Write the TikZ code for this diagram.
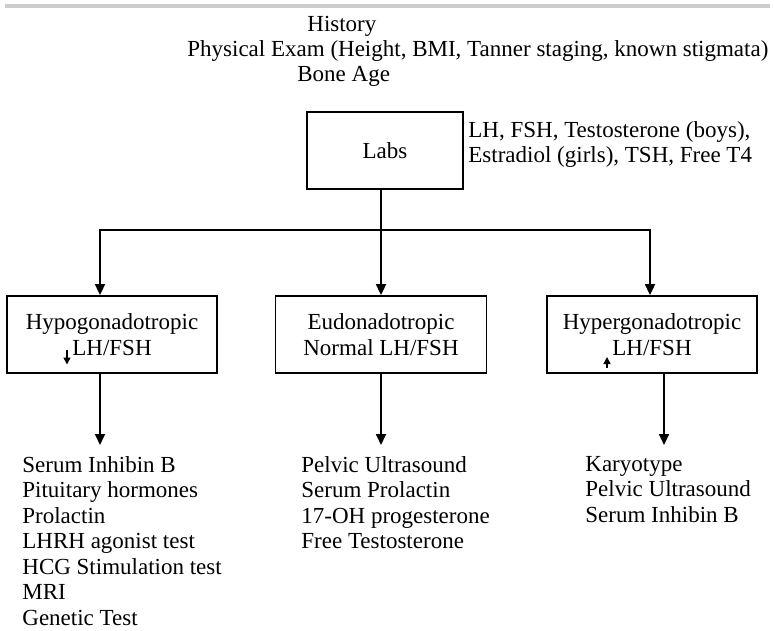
\documentclass[tikz,border=0pt]{standalone}
\usepackage{fontspec}
\setmainfont{Liberation Serif}
\usepackage{tikz}
\usetikzlibrary{arrows.meta}

\begin{document}
\begin{tikzpicture}[x=0.5pt, y=-0.5pt,
		font=\fontsize{11.5}{12.75}\selectfont,
		>={Triangle[length=5.5pt, width=5pt]},
		box/.style={draw, rectangle, line width=0.9pt, align=center, minimum height=38.5pt},
		note/.style={inner sep=0pt, align=left},
		list/.style={inner xsep=0pt, inner ysep=5.5pt, align=left, anchor=north west},
		link/.style={line width=0.9pt},
		tiny/.style={line width=0.7pt, -{Triangle[length=3.5pt, width=3.5pt]}}]
		\useasboundingbox (0,0) rectangle (774,630);
		\draw[gray!40, line width=1.8pt] (5,6) -- (770,6);
		
		% badania wstepne
		\node[note, anchor=base west] (history) at (307,32) {History};
		\node[note, anchor=base west] (exam) at (187,57) {Physical Exam (Height, BMI, Tanner staging, known stigmata)};
		\node[note, anchor=base west] (bone) at (297,82) {Bone Age};
		
		\node[box, minimum width=78pt] (labs) at (385,150.5) {Labs};
		\node[note, anchor=north west] (labtests) at (468,121) {LH, FSH, Testosterone (boys),\\Estradiol (girls), TSH, Free T4};
		
		\node[box, minimum width=105pt] (hypo) at (112,334.5) {Hypogonadotropic\\LH/FSH};
		\node[box, minimum width=105.5pt] (eu) at (381,334.5) {Eudonadotropic\\Normal LH/FSH};
		\node[box, minimum width=105pt] (hyper) at (652,334.5) {Hypergonadotropic\\LH/FSH};
		
		% strzalki przy LH/FSH
		\draw[tiny] ([shift={(-45,15)}]hypo.center) -- ++(0,15);
		\draw[tiny] ([shift={(-45,33.5)}]hyper.center) -- ++(0,-11);
		
		\node[list] (hypotests) at (22,445) {Serum Inhibin B\\Pituitary hormones\\Prolactin\\LHRH agonist test\\HCG Stimulation test\\MRI\\Genetic Test};
		\node[list] (eutests) at (301,445) {Pelvic Ultrasound\\Serum Prolactin\\17-OH progesterone\\Free Testosterone};
		\node[list] (hypertests) at (585,445) {Karyotype\\Pelvic Ultrasound\\Serum Inhibin B};
		
		\coordinate (fork) at (381,230);
		\coordinate (hypoin) at ([xshift=-6pt]hypo.north);
		\coordinate (hyperin) at ([xshift=-1pt]hyper.north);
		\coordinate (hypoout) at ([xshift=-6pt]hypo.south);
		\coordinate (hyperout) at ([xshift=6pt]hyper.south);
		
		\draw[link, ->] (fork |- labs.south) -- (eu.north);
		\draw[link, ->] (fork) -| (hypoin);
		\draw[link, ->] (fork) -| (hyperin);
		
		\draw[link, ->] (hypoout) -- (hypoout |- hypotests.north);
		\draw[link, ->] (eu.south) -- (eu.south |- eutests.north);
		\draw[link, ->] (hyperout) -- (hyperout |- hypertests.north);
	\end{tikzpicture}
\end{document}
